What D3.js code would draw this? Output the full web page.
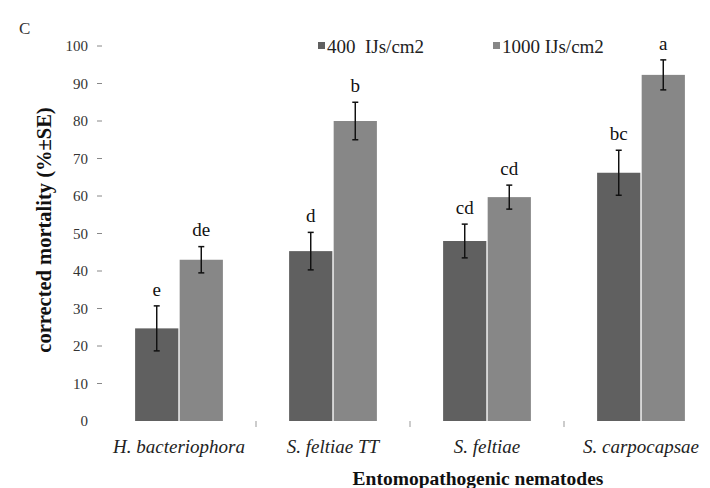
<!DOCTYPE html>
<html>
<head>
<meta charset="utf-8">
<script src="https://cdn.jsdelivr.net/npm/d3@7"></script>
<style>
  body { margin: 0; background: #fff; }
  svg text { font-family: "Liberation Serif", "Times New Roman", serif; }
</style>
</head>
<body>
<div id="chart"></div>
<script>
// data
var categories = ["H. bacteriophora", "S. feltiae TT", "S. feltiae", "S. carpocapsae"];
var series = ["400  IJs/cm2", "1000 IJs/cm2"];
var low = [24.7, 45.3, 48.0, 66.2];      // 400 IJs/cm2
var high = [43.0, 80.0, 59.7, 92.3];     // 1000 IJs/cm2
var lowErr = [6.0, 5.0, 4.5, 6.0];
var highErr = [3.5, 5.0, 3.2, 4.0];
var lowLetters = ["e", "d", "cd", "bc"];
var highLetters = ["de", "b", "cd", "a"];
var yTicks = [0, 10, 20, 30, 40, 50, 60, 70, 80, 90, 100];

var colors = ["#606060", "#878787"];

var svg = d3.select("#chart").append("svg")
    .attr("width", 710)
    .attr("height", 488);

var x = d3.scaleBand()
    .domain(categories)
    .range([102, 718])
    .paddingInner(0.43)
    .paddingOuter(0.215);

var xs = d3.scaleBand()
    .domain([0, 1])
    .range([0, x.bandwidth()])
    .paddingInner(0.03);

var y = d3.scaleLinear()
    .domain([0, 100])
    .range([421, 46]);

// y tick labels with little dashes
var yAxis = svg.append("g");
yAxis.selectAll("text")
    .data(yTicks)
    .enter()
    .append("text")
    .attr("x", 88)
    .attr("y", function(d){ return y(d); })
    .attr("dy", "0.35em")
    .attr("text-anchor", "end")
    .attr("font-size", 15)
    .attr("fill", "#333")
    .text(function(d){ return d; });
yAxis.selectAll("line")
    .data(yTicks.filter(function(d){ return d > 0; }))
    .enter()
    .append("line")
    .attr("x1", 97).attr("x2", 102)
    .attr("y1", function(d){ return y(d); })
    .attr("y2", function(d){ return y(d); })
    .attr("stroke", "#888")
    .attr("stroke-width", 1);

// category boundary ticks
var bounds = categories.slice(1).map(function(c){ return x(c) - x.step() * x.paddingInner() / 2; });
svg.selectAll(".ctick")
    .data(bounds)
    .enter()
    .append("line")
    .attr("x1", function(d){ return d; })
    .attr("x2", function(d){ return d; })
    .attr("y1", 421).attr("y2", 427)
    .attr("stroke", "#999");

var rows = [];
categories.forEach(function(c, i){
    rows.push({cat: c, s: 0, v: low[i], e: lowErr[i], t: lowLetters[i]});
    rows.push({cat: c, s: 1, v: high[i], e: highErr[i], t: highLetters[i]});
});

function bx(d){ return x(d.cat) + xs(d.s); }
function cx(d){ return bx(d) + xs.bandwidth() / 2; }

svg.selectAll(".bar")
    .data(rows)
    .enter()
    .append("rect")
    .attr("class", "bar")
    .attr("x", bx)
    .attr("width", xs.bandwidth())
    .attr("y", function(d){ return y(d.v); })
    .attr("height", function(d){ return y(0) - y(d.v); })
    .attr("fill", function(d){ return colors[d.s]; });

// error bars
var eb = svg.selectAll(".err")
    .data(rows)
    .enter()
    .append("g")
    .attr("class", "err");
eb.append("line")
    .attr("x1", cx).attr("x2", cx)
    .attr("y1", function(d){ return y(d.v + d.e); })
    .attr("y2", function(d){ return y(d.v - d.e); })
    .attr("stroke", "#111")
    .attr("stroke-width", 1.5);
[1, -1].forEach(function(sg){
    eb.append("line")
        .attr("x1", function(d){ return cx(d) - 3; })
        .attr("x2", function(d){ return cx(d) + 3; })
        .attr("y1", function(d){ return y(d.v + sg * d.e); })
        .attr("y2", function(d){ return y(d.v + sg * d.e); })
        .attr("stroke", "#111")
        .attr("stroke-width", 1.5);
});

// significance letters
svg.selectAll(".letter")
    .data(rows)
    .enter()
    .append("text")
    .attr("x", cx)
    .attr("y", function(d){ return y(d.v + d.e + 4.5); })
    .attr("dy", "0.35em")
    .attr("text-anchor", "middle")
    .attr("font-size", 19)
    .attr("fill", "#111")
    .text(function(d){ return d.t; });

// x labels
svg.selectAll(".xlab")
    .data(categories)
    .enter()
    .append("text")
    .attr("x", function(d){ return x(d) + x.bandwidth() / 2; })
    .attr("y", 453)
    .attr("text-anchor", "middle")
    .attr("font-size", 19)
    .attr("font-style", "italic")
    .attr("fill", "#222")
    .text(function(d){ return d; });

svg.append("text")
    .attr("x", 478)
    .attr("y", 485)
    .attr("text-anchor", "middle")
    .attr("font-size", 19.5)
    .attr("font-weight", "bold")
    .attr("fill", "#111")
    .text("Entomopathogenic nematodes");

svg.append("text")
    .attr("transform", "translate(51,230) rotate(-90)")
    .attr("text-anchor", "middle")
    .attr("font-size", 20.5)
    .attr("font-weight", "bold")
    .attr("fill", "#111")
    .text("corrected mortality (%±SE)");

svg.append("text")
    .attr("x", 19)
    .attr("y", 34)
    .attr("font-size", 17)
    .attr("fill", "#333")
    .text("C");

// legend
var lx = [318, 493];
var leg = svg.selectAll(".leg")
    .data(series)
    .enter()
    .append("g")
    .attr("transform", function(d, i){ return "translate(" + lx[i] + ",46)"; });
leg.append("rect")
    .attr("x", 0).attr("y", -4)
    .attr("width", 7).attr("height", 7)
    .attr("fill", function(d, i){ return colors[i]; });
leg.append("text")
    .attr("x", 9)
    .attr("y", 0)
    .attr("dy", "0.35em")
    .attr("font-size", 19)
    .attr("fill", "#222")
    .attr("xml:space", "preserve")
    .text(function(d){ return d; });
</script>
</body>
</html>
